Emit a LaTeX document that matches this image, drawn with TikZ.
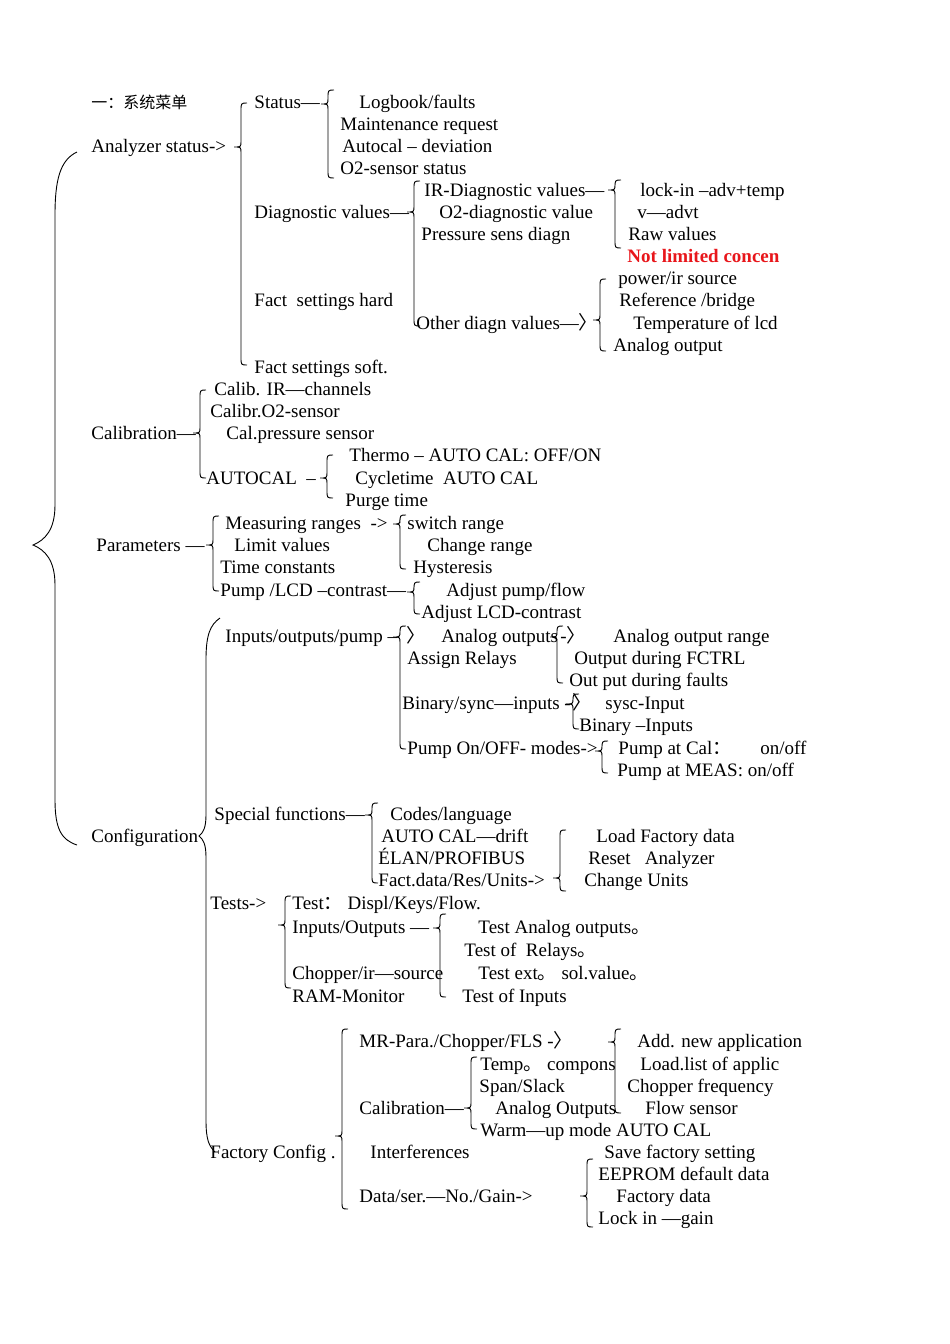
\documentclass[tikz,border=0pt]{standalone}
\usepackage{fontspec}
\setmainfont{Liberation Serif}
\newfontfamily\cjk{Noto Sans CJK SC}
\usepackage{tikz}

\definecolor{notred}{HTML}{E8161B}

% brace: x, top, tip, bottom
\newcommand{\menubrace}[4]{%
  \draw (#1+6,#2) .. controls (#1,#2) .. (#1,#2+8) -- (#1,#3-6)
    .. controls (#1,#3) .. (#1-7,#3) .. controls (#1,#3) .. (#1,#3+6)
    -- (#1,#4-8) .. controls (#1,#4) .. (#1+6,#4);}

\begin{document}
\begin{tikzpicture}[x=1pt,y=-1pt,line width=0.9pt,
    every node/.style={anchor=base west,inner sep=0pt,font=\fontsize{19}{22}\selectfont}]
\useasboundingbox (0,0) rectangle (950,1344);

% analyzer status
\node (title) at (91,108) {\cjk\fontsize{16}{20}\selectfont 一：系统菜单};
\node (anstat) at (91,152) {Analyzer status->};
\node (status) at (254,108) {Status—};
\node (logbook) at (359,108) {Logbook/faults};
\node (maint) at (340,130) {Maintenance request};
\node (autodev) at (342,152) {Autocal – deviation};
\node (osensor) at (340,174) {O2-sensor status};
\node (diag) at (254,218) {Diagnostic values—};
\node (irdiag) at (424,196) {IR-Diagnostic values—};
\node (odiag) at (439,218) {O2-diagnostic value};
\node (pdiag) at (421,240) {Pressure sens diagn};
\node (lockin) at (640,196) {lock-in –adv+temp};
\node (vadvt) at (637,218) {v—advt};
\node (raw) at (628,240) {Raw values};
\node (notlim) at (627,262) {\color{notred}\bfseries Not limited concen};
\node (facthard) at (254,306) {Fact\ \ settings hard};
\node (otherdiag) at (416,329) {Other diagn values—{\cjk 〉}};
\node (power) at (618,284) {power/ir source};
\node (refbr) at (619,306) {Reference /bridge};
\node (templcd) at (633,329) {Temperature of lcd};
\node (anout) at (613,351) {Analog output};
\node (factsoft) at (254,373) {Fact settings soft.};

% calibration
\node (calib) at (91,439) {Calibration—};
\node (calir) at (214,395) {Calib. IR—channels};
\node (calo) at (210,417) {Calibr.O2-sensor};
\node (calp) at (226,439) {Cal.pressure sensor};
\node (autocal) at (206,484) {AUTOCAL\ \ –};
\node (thermo) at (349,461) {Thermo – AUTO CAL: OFF/ON};
\node (cycle) at (355,484) {Cycletime\ \ AUTO CAL};
\node (purge) at (345,506) {Purge time};

% parameters
\node (param) at (96,551) {Parameters —};
\node (measr) at (225,529) {Measuring ranges\ \ ->};
\node (limit) at (234,551) {Limit values};
\node (timec) at (220,573) {Time constants};
\node (pumplcd) at (220,596) {Pump /LCD –contrast—};
\node (switchr) at (407,529) {switch range};
\node (changer) at (427,551) {Change range};
\node (hyst) at (413,573) {Hysteresis};
\node (adjpump) at (446,596) {Adjust pump/flow};
\node (adjlcd) at (421,618) {Adjust LCD-contrast};

% configuration
\node (config) at (91,842) {Configuration};
\node (iop) at (225,642) {Inputs/outputs/pump –};
\node (iotip) at (406,642) {\cjk 〉};
\node (anouts) at (441,642) {Analog outputs};
\node (anoutstip) at (560,642) {-{\cjk 〉}};
\node (anrange) at (613,642) {Analog output range};
\node (fctrl) at (574,664) {Output during FCTRL};
\node (faults) at (569,686) {Out put during faults};
\node (relays) at (407,664) {Assign Relays};
\node (binsync) at (402,709) {Binary/sync—inputs -};
\node (bintip) at (572,709) {\cjk 〉};
\node (sysc) at (605,709) {sysc-Input};
\node (bininp) at (579,731) {Binary –Inputs};
\node (pumpmode) at (407,754) {Pump On/OFF- modes->};
\node (pumpcal) at (618,754) {Pump at Cal{\cjk ：}};
\node (onoff) at (760,754) {on/off};
\node (pumpmeas) at (617,776) {Pump at MEAS: on/off};

\node (special) at (214,820) {Special functions—};
\node (codes) at (390,820) {Codes/language};
\node (acdrift) at (381,842) {AUTO CAL—drift};
\node (elan) at (378,864) {ÉLAN/PROFIBUS};
\node (factdata) at (378,886) {Fact.data/Res/Units->};
\node (loadfact) at (596,842) {Load Factory data};
\node (reset) at (588,864) {Reset\ \ \ Analyzer};
\node (units) at (584,886) {Change Units};

\node (tests) at (210,909) {Tests->};
\node (testdisp) at (292,909) {Test{\cjk ：}\ Displ/Keys/Flow.};
\node (testio) at (292,933) {Inputs/Outputs —};
\node (chopper) at (292,979) {Chopper/ir—source};
\node (ram) at (292,1002) {RAM-Monitor};
\node (testan) at (478,933) {Test Analog outputs{\cjk 。}};
\node (testrel) at (464,956) {Test of\ \ Relays{\cjk 。}};
\node (testext) at (478,979) {Test ext{\cjk 。}\ sol.value{\cjk 。}};
\node (testinp) at (462,1002) {Test of Inputs};

% factory config
\node (factory) at (210,1158) {Factory Config .};
\node (mrpara) at (359,1047) {MR-Para./Chopper/FLS -{\cjk 〉}};
\node (fcalib) at (359,1114) {Calibration—};
\node (tempc) at (480,1070) {Temp{\cjk 。}\ compons};
\node (span) at (479,1092) {Span/Slack};
\node (fanout) at (495,1114) {Analog Outputs};
\node (warm) at (480,1136) {Warm—up mode AUTO CAL};
\node (addapp) at (637,1047) {Add. new application};
\node (loadlist) at (640,1070) {Load.list of applic};
\node (chopfreq) at (627,1092) {Chopper frequency};
\node (flows) at (645,1114) {Flow sensor};
\node (interf) at (370,1158) {Interferences};
\node (dataser) at (359,1202) {Data/ser.—No./Gain->};
\node (savefact) at (604,1158) {Save factory setting};
\node (eeprom) at (598,1180) {EEPROM default data};
\node (fdata) at (616,1202) {Factory data};
\node (lockgain) at (598,1224) {Lock in —gain};

% big braces
\draw (77,152) .. controls (60,160) and (55,180) .. (55,215) -- (55,505)
  .. controls (55,530) and (45,540) .. (33,545) .. controls (45,550) and (55,560) .. (55,585)
  -- (55,800) .. controls (55,830) and (62,840) .. (77,845);
\draw (220,618) .. controls (210,625) and (206,635) .. (206,660) -- (206,815)
  .. controls (206,828) and (203,833) .. (199,836) .. controls (203,839) and (206,844) .. (206,857)
  -- (206,1120) .. controls (206,1140) and (209,1146) .. (215,1152);

% small braces
\menubrace{241}{103}{147}{365}
\menubrace{328}{90}{104}{178}
\menubrace{414}{181}{212}{326}
\menubrace{615}{180}{190}{248}
\menubrace{600}{279}{320}{351}
\menubrace{200}{390}{433}{478}
\menubrace{327}{455}{478}{498}
\menubrace{213}{516}{545}{591}
\menubrace{400}{515}{524}{569}
\menubrace{414}{582}{592}{614}
\menubrace{400}{626}{637}{749}
\menubrace{557}{626}{637}{683}
\menubrace{573}{694}{704}{729}
\menubrace{602}{741}{751}{773}
\menubrace{372}{803}{815}{883}
\menubrace{560}{830}{878}{891}
\menubrace{285}{896}{925}{988}
\menubrace{440}{914}{928}{997}
\menubrace{342}{1029}{1136}{1209}
\menubrace{471}{1057}{1108}{1129}
\menubrace{615}{1029}{1042}{1113}
\menubrace{587}{1159}{1196}{1227}
\end{tikzpicture}
\end{document}
